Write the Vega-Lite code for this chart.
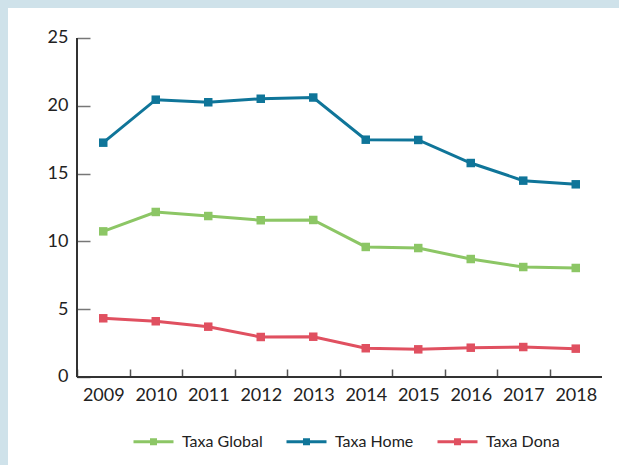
{
  "$schema": "https://vega.github.io/schema/vega-lite/v6.json",
  "width": 611,
  "height": 457,
  "autosize": {"type": "none"},
  "padding": {"left": 8, "top": 8, "right": 0, "bottom": 0},
  "background": "#cfe2ea",
  "config": {
    "view": {"fill": "white", "stroke": null},
    "font": "Lato",
    "axis": {"labelFont": "Lato", "labelFontSize": 18, "labelColor": "#222222", "grid": false, "title": null}
  },
  "data": {"values": [
    {"year": 2009, "series": "Taxa Global", "value": 10.74},
    {"year": 2010, "series": "Taxa Global", "value": 12.17},
    {"year": 2011, "series": "Taxa Global", "value": 11.87},
    {"year": 2012, "series": "Taxa Global", "value": 11.56},
    {"year": 2013, "series": "Taxa Global", "value": 11.58},
    {"year": 2014, "series": "Taxa Global", "value": 9.59},
    {"year": 2015, "series": "Taxa Global", "value": 9.51},
    {"year": 2016, "series": "Taxa Global", "value": 8.7},
    {"year": 2017, "series": "Taxa Global", "value": 8.11},
    {"year": 2018, "series": "Taxa Global", "value": 8.04},
    {"year": 2009, "series": "Taxa Home", "value": 17.28},
    {"year": 2010, "series": "Taxa Home", "value": 20.45},
    {"year": 2011, "series": "Taxa Home", "value": 20.26},
    {"year": 2012, "series": "Taxa Home", "value": 20.52},
    {"year": 2013, "series": "Taxa Home", "value": 20.61},
    {"year": 2014, "series": "Taxa Home", "value": 17.5},
    {"year": 2015, "series": "Taxa Home", "value": 17.48},
    {"year": 2016, "series": "Taxa Home", "value": 15.78},
    {"year": 2017, "series": "Taxa Home", "value": 14.48},
    {"year": 2018, "series": "Taxa Home", "value": 14.21},
    {"year": 2009, "series": "Taxa Dona", "value": 4.33},
    {"year": 2010, "series": "Taxa Dona", "value": 4.11},
    {"year": 2011, "series": "Taxa Dona", "value": 3.71},
    {"year": 2012, "series": "Taxa Dona", "value": 2.95},
    {"year": 2013, "series": "Taxa Dona", "value": 2.97},
    {"year": 2014, "series": "Taxa Dona", "value": 2.12},
    {"year": 2015, "series": "Taxa Dona", "value": 2.04},
    {"year": 2016, "series": "Taxa Dona", "value": 2.16},
    {"year": 2017, "series": "Taxa Dona", "value": 2.21},
    {"year": 2018, "series": "Taxa Dona", "value": 2.09}
  ]},
  "layer": [
    {
      "mark": {"type": "rule", "color": "#333333", "strokeWidth": 1.5},
      "encoding": {
        "x": {"datum": 2008.5, "type": "quantitative"},
        "y": {"datum": 0, "type": "quantitative"},
        "y2": {"datum": 25}
      }
    },
    {
      "mark": {"type": "rule", "color": "#333333", "strokeWidth": 1.5},
      "encoding": {
        "x": {"datum": 2008.5, "type": "quantitative"},
        "x2": {"datum": 2018.5},
        "y": {"datum": 0, "type": "quantitative"}
      }
    },
    {
      "mark": {"type": "line", "strokeWidth": 3, "point": {"shape": "square", "size": 72, "filled": true, "opacity": 1}},
      "encoding": {
        "x": {
          "field": "year", "type": "quantitative",
          "scale": {"domain": [2007.1857, 2018.8238], "nice": false, "zero": false},
          "axis": {
            "values": [2009, 2010, 2011, 2012, 2013, 2014, 2015, 2016, 2017, 2018, 2019],
            "format": "d",
            "labelExpr": "datum.value > 2018 ? '' : datum.label",
            "offset": -88,
            "domain": false,
            "tickSize": -8,
            "tickWidth": 1.5,
            "tickColor": "#555555",
            "tickOffset": -26.25,
            "labelOffset": 26.25,
            "labelPadding": 17,
            "labelFontSize": 18,
            "labelFlush": false,
            "labelOverlap": false,
            "labelBound": false
          }
        },
        "y": {
          "field": "value", "type": "quantitative",
          "scale": {"domain": [-6.49, 27.212], "nice": false, "zero": false},
          "axis": {
            "values": [0, 5, 10, 15, 20, 25],
            "offset": -69,
            "domain": false,
            "tickSize": -13,
            "tickWidth": 1.5,
            "tickColor": "#777777",
            "labelFontSize": 18,
            "labelPadding": 22
          }
        },
        "color": {
          "field": "series", "type": "nominal",
          "scale": {"domain": ["Taxa Global", "Taxa Home", "Taxa Dona"], "range": ["#8cc665", "#0f7599", "#e05060"]},
          "legend": {
            "title": null,
            "orient": "none",
            "direction": "horizontal",
            "legendX": 124,
            "legendY": 412,
            "padding": 0,
            "symbolType": "M-1,0L1,0M-0.1,-0.1L0.1,-0.1L0.1,0.1L-0.1,0.1Z",
            "symbolSize": 1600,
            "symbolStrokeWidth": 3,
            "labelFont": "Lato",
            "labelFontSize": 16,
            "labelColor": "#222222",
            "labelOffset": 7,
            "columnPadding": 17,
            "encode": {"symbols": {"update": {"fill": {"scale": "color", "field": "value"}, "stroke": {"scale": "color", "field": "value"}, "opacity": {"value": 1}}}}
          }
        }
      }
    }
  ]
}
